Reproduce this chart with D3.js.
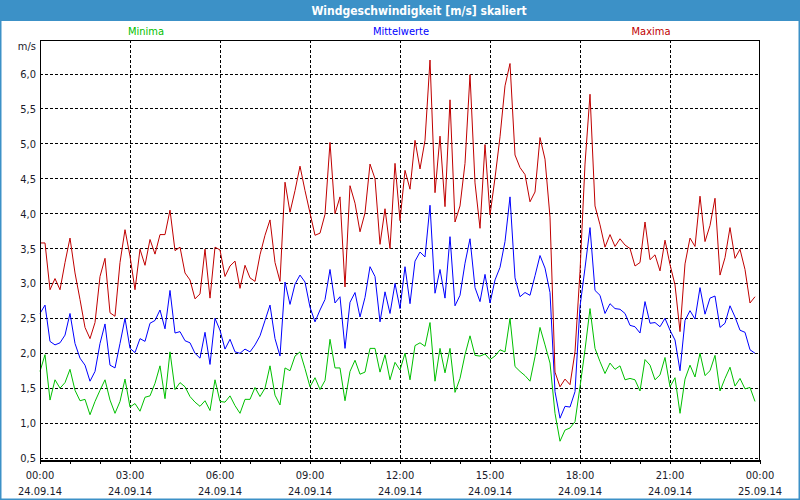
<!DOCTYPE html>
<html><head><meta charset="utf-8">
<script src="https://cdn.jsdelivr.net/npm/d3@7"></script>
<style>
html,body{margin:0;padding:0;background:#fff;}
svg{display:block;font-family:"DejaVu Sans Condensed","DejaVu Sans",Tahoma,sans-serif;}
</style></head>
<body>
<svg id="chart" width="800" height="500"></svg>
<script>
// ---- data (10-minute values, 24.09.14 00:00 .. 23:50) ----
const maxima = [3.58,3.58,2.91,3.07,2.91,3.30,3.65,3.15,2.77,2.37,2.21,2.44,3.10,3.36,2.58,2.53,3.30,3.77,3.39,2.91,3.49,3.26,3.63,3.42,
3.70,3.70,4.05,3.47,3.52,3.15,3.05,2.78,2.85,3.49,2.79,3.52,3.48,3.10,3.25,3.32,2.93,3.26,3.08,3.03,3.41,3.69,3.91,3.30,
3.03,4.45,4.02,4.33,4.68,4.33,4.01,3.69,3.72,3.99,5.02,4.00,4.24,2.95,4.40,4.15,3.74,4.01,4.71,4.50,3.56,4.07,3.50,4.72,
3.90,4.62,4.35,5.05,4.64,5.05,6.20,4.30,5.11,4.10,5.63,3.88,4.11,4.72,5.99,4.44,3.79,4.99,3.98,4.51,5.10,5.83,6.15,4.84,
4.66,4.56,4.17,4.31,5.09,4.78,3.95,1.73,1.52,1.63,1.55,2.02,3.17,4.71,5.71,4.11,3.84,3.52,3.70,3.53,3.64,3.55,3.50,3.25,
3.30,3.88,3.34,3.41,3.18,3.62,3.27,2.98,2.31,3.28,3.65,3.53,4.25,3.60,3.83,4.22,3.12,3.37,3.80,3.36,3.49,3.20,2.72,2.81];
const mittelwerte = [2.57,2.69,2.17,2.12,2.15,2.26,2.57,2.14,1.93,1.83,1.60,1.74,2.14,2.42,1.83,1.79,2.14,2.50,2.07,2.01,2.21,2.17,2.43,2.47,
2.62,2.35,2.90,2.29,2.31,2.18,2.15,2.00,1.93,2.30,1.84,2.50,2.33,2.06,2.20,2.02,2.00,2.06,2.02,2.12,2.25,2.47,2.69,2.21,
1.96,3.02,2.70,2.99,3.12,3.02,2.66,2.45,2.62,2.77,3.20,2.72,2.81,2.07,2.73,2.87,2.52,2.80,3.24,3.10,2.45,2.88,2.57,3.00,
2.64,3.24,2.71,3.32,3.45,3.38,4.12,2.86,3.20,2.79,3.67,2.68,2.83,3.29,3.64,2.94,2.74,3.13,2.72,3.05,3.23,3.60,4.24,3.08,
2.81,2.87,2.83,3.11,3.40,3.22,2.87,1.45,1.07,1.24,1.23,1.45,2.67,3.22,3.80,2.90,2.83,2.57,2.71,2.64,2.63,2.57,2.40,2.38,
2.29,2.74,2.43,2.44,2.38,2.50,2.33,2.19,1.75,2.47,2.61,2.49,2.94,2.56,2.79,2.82,2.37,2.43,2.68,2.52,2.33,2.30,2.05,2.00];
const minima = [1.74,1.98,1.33,1.62,1.50,1.58,1.77,1.47,1.32,1.34,1.12,1.31,1.47,1.62,1.33,1.14,1.31,1.63,1.23,1.28,1.17,1.37,1.39,1.57,
1.82,1.35,2.02,1.48,1.58,1.52,1.38,1.30,1.24,1.32,1.18,1.62,1.31,1.30,1.39,1.25,1.14,1.34,1.34,1.51,1.38,1.50,1.82,1.40,
1.26,1.79,1.75,1.96,2.02,1.78,1.52,1.65,1.48,1.61,2.20,1.79,1.79,1.32,1.74,1.90,1.70,1.73,2.07,2.07,1.73,1.98,1.62,1.87,
1.76,2.00,1.62,2.11,2.15,2.10,2.44,1.60,2.07,1.72,2.07,1.44,1.64,1.98,2.25,1.97,1.96,1.99,1.91,1.96,2.05,2.02,2.50,1.81,
1.74,1.68,1.60,1.95,2.37,2.12,1.86,1.14,0.74,0.90,0.93,1.02,1.52,2.05,2.64,2.07,1.88,1.71,1.86,1.77,1.82,1.62,1.64,1.62,
1.46,1.91,1.83,1.62,1.69,1.94,1.52,1.65,1.14,1.63,1.83,1.66,2.00,1.68,1.75,1.97,1.46,1.64,1.80,1.53,1.64,1.49,1.51,1.31];
const seriesNames = ["Minima","Mittelwerte","Maxima"];
const yTicks = [0.5,1.0,1.5,2.0,2.5,3.0,3.5,4.0,4.5,5.0,5.5,6.0];
const timeLabels = ["00:00","03:00","06:00","09:00","12:00","15:00","18:00","21:00","00:00"];
const dateLabels = ["24.09.14","24.09.14","24.09.14","24.09.14","24.09.14","24.09.14","24.09.14","24.09.14","25.09.14"];
const titleText = "Windgeschwindigkeit [m/s] skaliert";
const unitText = "m/s";

// ---- drawing ----
const svg = d3.select("#chart");
const W = 800, H = 500;
const L = 40, R = 760, T = 40, B = 460;
const start = new Date(2014, 8, 24, 0, 0);
const end = d3.timeHour.offset(start, 24);
const x = d3.scaleTime().domain([start, end]).range([L, R]);
const y = d3.scaleLinear().domain([0.5, 6.0]).range([458, 74]);
const loc = d3.formatLocale({decimal: ",", thousands: ".", grouping: [3], currency: ["", "€"]});
const fmt = loc.format(".1f");

const frameBlue = "#3c91c7";
svg.append("rect").attr("x", 0).attr("y", 0).attr("width", W).attr("height", H).attr("fill", "#fff");
svg.append("rect").attr("x", 0).attr("y", 0).attr("width", W).attr("height", 21).attr("fill", frameBlue);
svg.append("rect").attr("x", 0.5).attr("y", 0.5).attr("width", W - 1).attr("height", H - 1)
  .attr("fill", "none").attr("stroke", frameBlue).attr("stroke-width", 2);
svg.append("text").attr("x", 419).attr("y", 15).attr("text-anchor", "middle")
  .attr("fill", "#fff").attr("font-weight", "bold").attr("font-size", 12).text(titleText);

// legend labels
const colors = ["#00c000", "#0000ff", "#c00000"];
const legendX = [146, 401, 651];
seriesNames.forEach((n, k) => {
  svg.append("text").attr("x", legendX[k]).attr("y", 35).attr("text-anchor", "middle")
    .attr("fill", colors[k]).attr("font-size", 11).text(n);
});

// grid
const grid = svg.append("g").attr("stroke", "#000").attr("stroke-dasharray", "3,2")
  .attr("shape-rendering", "crispEdges");
yTicks.forEach(v => {
  grid.append("line").attr("x1", L).attr("x2", R).attr("y1", y(v)).attr("y2", y(v));
});
const gridTimes = d3.range(1, 8).map(k => d3.timeHour.offset(start, 3 * k));
gridTimes.forEach(t => {
  grid.append("line").attr("x1", x(t)).attr("x2", x(t)).attr("y1", T).attr("y2", B);
});

// y axis labels
const yAxis = d3.axisLeft(y).tickValues(yTicks).tickSize(0).tickPadding(4).tickFormat(fmt);
const gy = svg.append("g").attr("transform", `translate(${L},0)`).call(yAxis);
gy.select(".domain").remove();
gy.selectAll("text").attr("font-size", 11).attr("fill", "#1a1a2a")
  .attr("font-family", "'DejaVu Sans Condensed','DejaVu Sans',sans-serif");
svg.append("text").attr("x", 36).attr("y", 50).attr("text-anchor", "end")
  .attr("font-size", 11).attr("fill", "#1a1a2a").text(unitText);

// x axis hourly ticks
const xAxis = d3.axisBottom(x).ticks(d3.timeHour.every(1)).tickSize(4).tickFormat("");
const gx = svg.append("g").attr("transform", `translate(0,${B})`).call(xAxis);
gx.select(".domain").remove();
gx.selectAll("line").attr("stroke", "#000").attr("shape-rendering", "crispEdges");
const labelTimes = d3.range(0, 9).map(k => d3.timeHour.offset(start, 3 * k));
labelTimes.forEach((t, k) => {
  svg.append("text").attr("x", x(t)).attr("y", 479).attr("text-anchor", "middle")
    .attr("font-size", 11).attr("fill", "#1a1a2a").text(timeLabels[k]);
  svg.append("text").attr("x", x(t)).attr("y", 495).attr("text-anchor", "middle")
    .attr("font-size", 11).attr("fill", "#1a1a2a").text(dateLabels[k]);
});

// data lines
const series = [minima, mittelwerte, maxima];
const line = d3.line().x((d, i) => x(d3.timeMinute.offset(start, 10 * i))).y(d => y(d));
series.forEach((s, k) => {
  svg.append("path").datum(s).attr("d", line).attr("fill", "none")
    .attr("stroke", colors[k]).attr("stroke-width", 1);
});

// plot frame
svg.append("rect").attr("x", L + 0.5).attr("y", T + 0.5).attr("width", R - L - 1).attr("height", B - T)
  .attr("fill", "none").attr("stroke", "#000").attr("stroke-width", 1).attr("shape-rendering", "crispEdges");
svg.append("line").attr("x1", L).attr("x2", R).attr("y1", B + 0.5).attr("y2", B + 0.5)
  .attr("stroke", "#000").attr("stroke-width", 2).attr("shape-rendering", "crispEdges");
</script>
</body></html>
